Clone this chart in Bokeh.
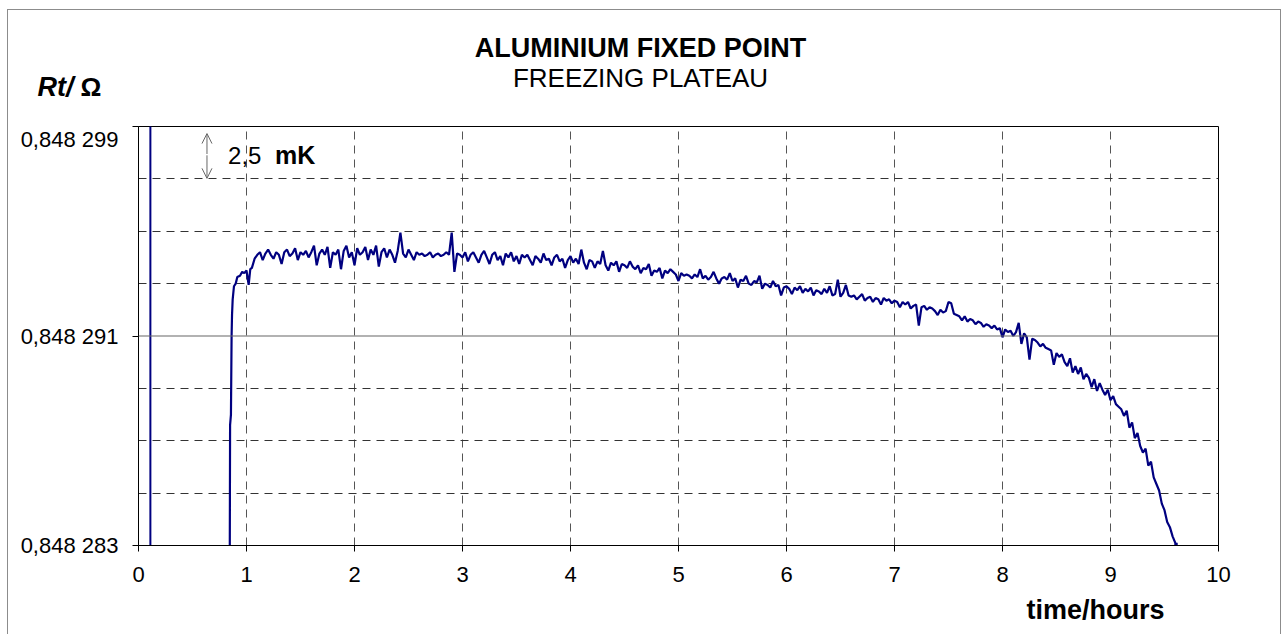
from bokeh.plotting import figure
from bokeh.layouts import column
from bokeh.models import Range1d, FixedTicker, Span, Label, Arrow, OpenHead
from bokeh.core.properties import value
from bokeh.embed import file_html
from bokeh.resources import INLINE

# ---------------- data ----------------
# resistance values in micro-ohm above 0.848 000 Ohm, time in hours
rise_t = [0.845, 0.848, 0.856, 0.862, 0.866, 0.872, 0.884, 0.900, 0.915,
          0.940, 0.960, 0.980, 1.000, 1.020, 1.035, 1.050, 1.075]
rise_v = [282.5, 287.6, 288.0, 291.0, 291.8, 292.4, 292.9, 293.0, 293.25,
          293.3, 293.45, 293.4, 293.5, 292.95, 293.55, 293.6, 293.95]

plateau_t0 = 1.1
plateau_dt = 0.025
plateau_v = [
    294.1, 294.2, 293.9, 294.15, 294.3, 294.1, 293.95, 294.2, 294.1, 293.75,
    294.2, 294.3, 294.05, 294.15, 294.35, 293.9, 294.2, 294.1, 294.25, 294.0,
    294.2, 294.45, 293.7, 294.15, 294.3, 294.1, 294.4, 293.6, 294.2, 294.1,
    294.3, 293.55, 294.25, 294.45, 294.0, 294.2, 293.7, 294.35, 294.1, 294.2,
    294.4, 293.9, 294.3, 294.1, 294.45, 293.65, 294.2, 294.35, 294.0, 294.3,
    294.1, 293.8, 294.25, 294.95, 294.15, 294.0, 294.3, 294.1, 293.9, 294.2,
    294.1, 294.15, 294.05, 294.1, 294.2, 294.0, 294.1, 294.15, 294.05, 294.1,
    294.2, 294.1, 294.95, 293.45, 294.15, 294.1, 294.0, 294.2, 293.85, 294.1,
    294.2, 294.0, 293.8, 294.1, 294.25, 294.0, 293.75, 294.1, 294.2, 293.9,
    294.05, 293.7, 294.15, 294.0, 294.2, 293.85, 294.05, 293.75, 294.1, 294.0,
    294.1, 293.9, 293.7, 294.05, 293.95, 293.8, 294.15, 293.9, 293.95, 293.7,
    294.0, 294.1, 293.85, 293.95, 293.6, 293.9, 294.05, 293.8, 293.95, 293.75,
    294.3, 293.8, 293.55, 293.9, 293.85, 293.6, 293.85, 293.75, 294.25, 293.7,
    293.5, 293.8, 293.7, 293.85, 293.45, 293.75, 293.7, 293.6, 293.85, 293.65,
    293.55, 293.7, 293.4, 293.6, 293.55, 293.75, 293.3, 293.5, 293.45, 293.6,
    293.2, 293.5, 293.4, 293.55, 293.45, 293.35, 293.1, 293.4, 293.3, 293.35,
    293.3, 293.2, 293.35, 293.25, 293.55, 293.2, 293.3, 293.15, 293.25, 293.45,
    293.2, 293.0, 293.2, 293.25, 293.15, 293.4, 293.1, 293.2, 292.85, 293.15,
    293.1, 293.3, 293.0, 292.95, 293.1, 293.05, 293.3, 292.8, 293.0, 292.95,
    292.85, 293.1, 292.9, 292.95, 292.55, 292.85, 292.9, 292.8, 292.6, 292.85,
    292.75, 292.9, 292.65, 292.8, 292.7, 292.85, 292.55, 292.75, 292.7, 292.6,
    292.8, 292.65, 292.9, 292.55, 292.6, 293.15, 292.5, 292.65, 292.95, 292.55,
    292.5, 292.55, 292.4, 292.5, 292.6, 292.35, 292.45, 292.5, 292.3, 292.45,
    292.4, 292.2, 292.45, 292.35, 292.4, 292.25, 292.35, 292.3, 292.1, 292.3,
    292.2, 292.3, 292.05, 292.15, 292.2, 291.4, 292.1, 292.15, 292.0, 292.1,
    292.05, 291.95, 291.8, 292.0, 291.9, 291.95, 292.3, 292.25, 291.85, 291.8,
    291.75, 291.6, 291.75, 291.55, 291.65, 291.6, 291.45, 291.55, 291.5, 291.35,
    291.45, 291.4, 291.3, 291.4, 291.25, 291.3, 290.95, 291.25, 291.15, 291.2,
    291.0, 291.15, 291.5, 290.7, 291.1, 290.95, 290.1, 290.9, 290.85, 290.75,
    290.6, 290.7, 290.55, 290.5, 290.45, 289.9, 290.35, 290.2, 290.3, 290.0,
    289.85, 290.15, 289.6, 289.85, 289.55, 289.8, 289.35, 289.55, 289.4, 289.05,
    289.35, 288.9, 289.2, 288.95, 288.75, 288.95, 288.55, 288.7, 288.4, 288.3,
    288.2, 287.95, 288.15, 287.5, 287.7, 287.1, 287.3, 286.8, 286.55, 286.7,
    286.05, 286.2, 285.6, 285.35, 285.1, 284.6, 284.35, 283.9, 283.7, 283.35,
]
end_t = [9.600, 9.605, 9.612, 9.616]
end_v = [283.1, 282.7, 283.1, 282.5]

marker_t = [0.11, 0.11]
marker_v = [282.5, 299.5]

x_ticks = list(range(0, 11))
y_ticks = [283, 291, 299]
y_tick_labels = ["0,848 283", "0,848 291", "0,848 299"]
y_dashed = [285, 287, 289, 293, 295, 297]
y_solid = 291
x_dashed = [1, 2, 3, 4, 5, 6, 7, 8, 9]

times = rise_t + [round(plateau_t0 + plateau_dt * i, 3) for i in range(len(plateau_v))] + end_t
values = rise_v + plateau_v + end_v

FONT = "Liberation Sans"
NAVY = "#000080"
W = 1272


def text_panel(h):
    f = figure(width=W, height=h, output_backend="svg", toolbar_location=None,
               x_range=Range1d(0, W), y_range=Range1d(h, 0),
               x_axis_type=None, y_axis_type=None,
               min_border=0, min_border_left=0, min_border_right=0,
               min_border_top=0, min_border_bottom=0)
    f.frame_align = False
    f.outline_line_color = None
    f.grid.visible = False
    f.background_fill_color = "white"
    f.border_fill_color = "white"
    return f


def put(f, x, y, txt, size, style="normal", align="left"):
    f.text(x=[x], y=[y], text=[txt], text_font=value(FONT), text_font_size=size,
           text_font_style=style, text_align=align, text_baseline="alphabetic",
           text_color="black")


# ---------------- top: titles ----------------
top = text_panel(116)
put(top, 632, 37, "ALUMINIUM FIXED POINT", "27px", "bold", "center")
put(top, 632, 67, "FREEZING PLATEAU", "26px", "normal", "center")
put(top, 29, 76, "Rt/", "27px", "bold italic")
put(top, 72, 76, "Ω", "26px", "bold")

# ---------------- main plot ----------------
p = figure(width=W, height=466, output_backend="svg", toolbar_location=None,
           x_range=Range1d(0, 10), y_range=Range1d(283, 299),
           min_border_left=130, min_border_right=62,
           min_border_top=0, min_border_bottom=47)
p.frame_align = False
p.outline_line_color = "black"
p.outline_line_width = 1
p.background_fill_color = "white"
p.border_fill_color = "white"

p.xaxis.ticker = FixedTicker(ticks=x_ticks)
p.yaxis.ticker = FixedTicker(ticks=y_ticks)
p.yaxis.major_label_overrides = {t: s for t, s in zip(y_ticks, y_tick_labels)}
for ax in (p.xaxis[0], p.yaxis[0]):
    ax.axis_line_color = "black"
    ax.major_tick_line_color = "black"
    ax.major_tick_in = 0
    ax.major_tick_out = 6
    ax.minor_tick_line_color = None
    ax.major_label_text_font = FONT
    ax.major_label_text_font_size = "22px"
    ax.major_label_text_color = "black"
p.xaxis.major_label_standoff = 15
p.yaxis.major_label_standoff = 14

p.xgrid.ticker = FixedTicker(ticks=x_dashed)
p.xgrid.grid_line_color = "#555555"
p.xgrid.grid_line_dash = "8 6"
p.ygrid.ticker = FixedTicker(ticks=y_dashed)
p.ygrid.grid_line_color = "#333333"
p.ygrid.grid_line_dash = "8 6"
p.add_layout(Span(location=y_solid, dimension="width", line_color="#666666", line_width=1.2))

p.line(marker_t, marker_v, line_color=NAVY, line_width=2)
p.line(times, values, line_color=NAVY, line_width=2.2)

p.add_layout(Arrow(x_start=0.634, y_start=297.95, x_end=0.634, y_end=298.73,
                   start=None, end=OpenHead(size=10, line_color="#666666", line_width=1),
                   line_color="#666666", line_width=1))
p.add_layout(Arrow(x_start=0.634, y_start=297.9, x_end=0.634, y_end=297.02,
                   start=None, end=OpenHead(size=10, line_color="#666666", line_width=1),
                   line_color="#666666", line_width=1))
p.add_layout(Label(x=0.829, y=297.91, text="2,5", text_font=FONT, text_font_size="24px",
                   text_baseline="alphabetic", text_color="black"))
p.add_layout(Label(x=1.264, y=297.91, text="mK", text_font=FONT, text_font_size="25px",
                   text_font_style="bold", text_baseline="alphabetic", text_color="black"))

# ---------------- bottom: x axis title ----------------
bottom = text_panel(42)
put(bottom, 1087, 17, "time/hours", "27px", "bold", "center")

layout = column(top, p, bottom, spacing=0,
                styles={"border": "1px solid #8c8c8c", "margin-left": "7px",
                        "margin-top": "9px"})

open("out.html", "w").write(file_html(layout, INLINE))
